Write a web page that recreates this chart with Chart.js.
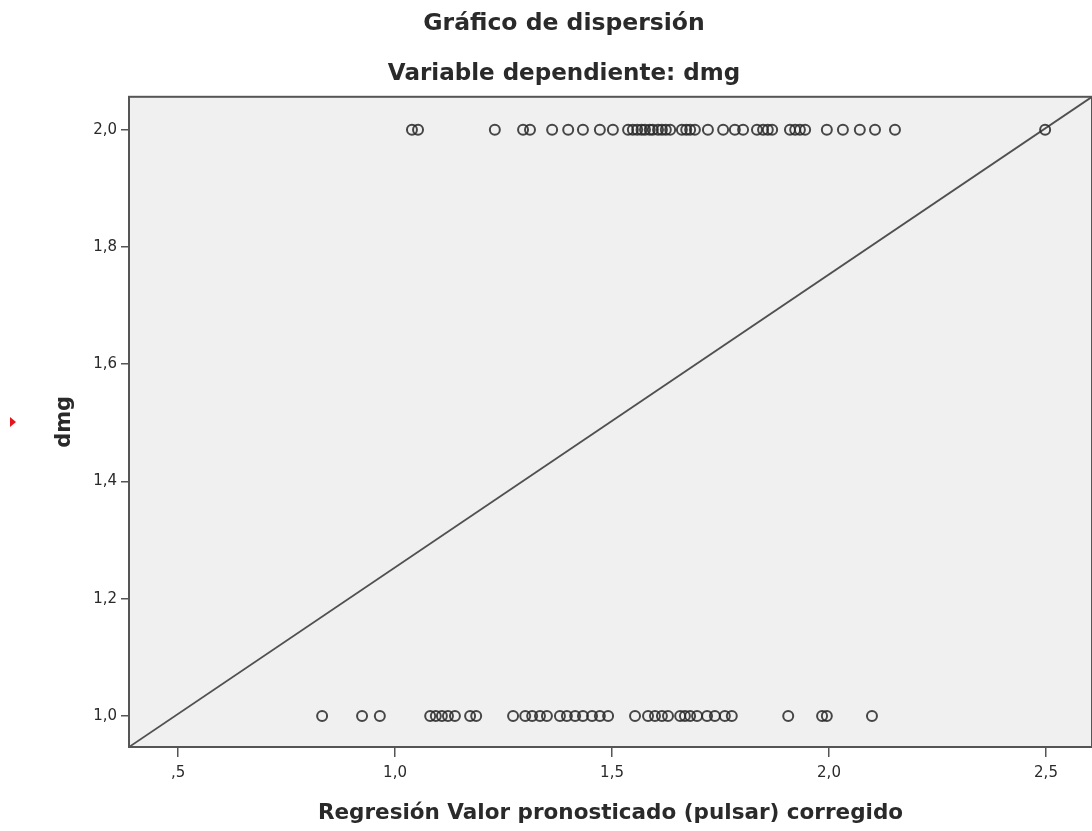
<!DOCTYPE html>
<html>
<head>
<meta charset="utf-8">
<script src="https://cdn.jsdelivr.net/npm/chart.js@4"></script>
<style>
  html, body { margin: 0; padding: 0; background: #fff; }
  #wrap { width: 1092px; height: 831px; position: relative; }
</style>
</head>
<body>
<div id="wrap"><canvas id="scatterChart"></canvas></div>
<script>
// valores pronosticados (eje x) para dmg = 2 y dmg = 1
const topLevel = 2.0;
const bottomLevel = 1.0;
const topX = [1.039, 1.053, 1.230, 1.295, 1.311, 1.362, 1.399, 1.433, 1.472, 1.502,
  1.537, 1.548, 1.558, 1.568, 1.576, 1.587, 1.594, 1.606, 1.615, 1.624, 1.634,
  1.661, 1.671, 1.680, 1.691, 1.721, 1.756, 1.783, 1.802, 1.834, 1.848, 1.859,
  1.869, 1.910, 1.922, 1.933, 1.945, 1.995, 2.032, 2.071, 2.106, 2.152, 2.498];
const bottomX = [0.832, 0.924, 0.965, 1.081, 1.094, 1.108, 1.122, 1.138, 1.173, 1.187,
  1.272, 1.300, 1.316, 1.334, 1.350, 1.380, 1.396, 1.415, 1.433, 1.454, 1.472, 1.491,
  1.553, 1.583, 1.599, 1.615, 1.629, 1.657, 1.668, 1.680, 1.696, 1.719, 1.737,
  1.760, 1.776, 1.906, 1.984, 1.995, 2.099];

// linea de referencia (diagonal de esquina a esquina)
const refLineX = [0.387, 2.606];
const refLineY = [0.947, 2.056];

const xTicks = [0.5, 1.0, 1.5, 2.0, 2.5];
const xTickLabels = [",5", "1,0", "1,5", "2,0", "2,5"];
const yTicks = [1.0, 1.2, 1.4, 1.6, 1.8, 2.0];
const yTickLabels = ["1,0", "1,2", "1,4", "1,6", "1,8", "2,0"];

const FONT = "'DejaVu Sans', Verdana, sans-serif";
const INK = "#2a2a2a";

const points = topX.map(x => ({ x: x, y: topLevel }))
  .concat(bottomX.map(x => ({ x: x, y: bottomLevel })));
const refLine = refLineX.map((x, i) => ({ x: x, y: refLineY[i] }));

// fondo gris y marco del area del grafico
const plotFrame = {
  id: "plotFrame",
  beforeDraw(chart) {
    const { ctx, chartArea: a } = chart;
    ctx.save();
    ctx.fillStyle = "#f0f0f0";
    ctx.fillRect(a.left, a.top, a.right - a.left, a.bottom - a.top);
    ctx.restore();
  },
  afterDraw(chart) {
    const { ctx, chartArea: a } = chart;
    ctx.save();
    ctx.strokeStyle = "#555";
    ctx.lineWidth = 2;
    ctx.strokeRect(a.left, a.top, a.right - a.left, a.bottom - a.top);
    // pequeno marcador rojo a la izquierda
    ctx.fillStyle = "#e8141c";
    ctx.beginPath();
    ctx.moveTo(10, (a.top + a.bottom) / 2 - 5);
    ctx.lineTo(16, (a.top + a.bottom) / 2);
    ctx.lineTo(10, (a.top + a.bottom) / 2 + 5);
    ctx.closePath();
    ctx.fill();
    ctx.restore();
  }
};

new Chart(document.getElementById("scatterChart"), {
  type: "scatter",
  data: {
    datasets: [
      {
        label: "dmg",
        data: points,
        pointStyle: "circle",
        pointRadius: 5,
        pointBorderWidth: 2,
        borderColor: "rgba(40,40,40,0.85)",
        backgroundColor: "rgba(0,0,0,0)",
        showLine: false
      },
      {
        label: "ref",
        data: refLine,
        showLine: true,
        pointRadius: 0,
        borderColor: "#505050",
        borderWidth: 1.8,
        fill: false
      }
    ]
  },
  options: {
    responsive: true,
    maintainAspectRatio: false,
    animation: false,
    layout: { autoPadding: false, padding: { left: 36, right: 0, top: 0, bottom: 0 } },
    plugins: {
      legend: { display: false },
      tooltip: { enabled: false },
      title: {
        display: true,
        text: "Gráfico de dispersión",
        color: INK,
        font: { family: FONT, size: 23.5, weight: "bold" },
        padding: { top: 10, bottom: 22 }
      },
      subtitle: {
        display: true,
        text: "Variable dependiente: dmg",
        color: INK,
        font: { family: FONT, size: 23, weight: "bold" },
        padding: { top: 0, bottom: 9 }
      }
    },
    scales: {
      x: {
        type: "linear",
        min: refLineX[0],
        max: refLineX[1],
        afterBuildTicks: (scale) => { scale.ticks = xTicks.map(v => ({ value: v })); },
        afterFit: (scale) => { scale.height = 84; },
        ticks: {
          callback: (v, i) => xTickLabels[i],
          color: INK,
          font: { family: FONT, size: 15 },
          padding: 7,
          maxRotation: 0
        },
        grid: { drawOnChartArea: false, drawTicks: true, tickLength: 10, color: "#555", lineWidth: 1.5 },
        border: { display: false },
        title: {
          display: true,
          text: "Regresión Valor pronosticado (pulsar) corregido",
          color: INK,
          font: { family: FONT, size: 21.5, weight: "bold" },
          padding: { top: 0, bottom: 5 }
        }
      },
      y: {
        type: "linear",
        min: refLineY[0],
        max: refLineY[1],
        afterBuildTicks: (scale) => { scale.ticks = yTicks.map(v => ({ value: v })); },
        afterFit: (scale) => { scale.width = 93; },
        ticks: {
          callback: (v, i) => yTickLabels[i],
          color: INK,
          font: { family: FONT, size: 15 },
          padding: 4
        },
        grid: { drawOnChartArea: false, drawTicks: true, tickLength: 8, color: "#555", lineWidth: 1.5 },
        border: { display: false },
        title: {
          display: true,
          text: "dmg",
          color: INK,
          font: { family: FONT, size: 21, weight: "bold" },
          padding: { top: 16, bottom: 0 }
        }
      }
    }
  },
  plugins: [plotFrame]
});
</script>
</body>
</html>
